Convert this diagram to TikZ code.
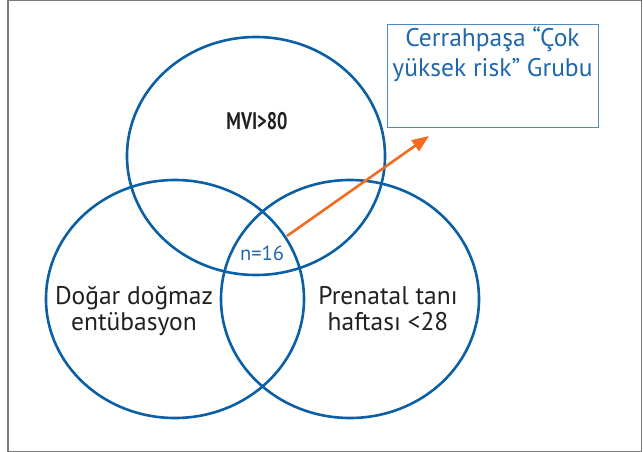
\documentclass[tikz,border=0pt]{standalone}
\usepackage{fontspec}
\usepackage{graphicx}
\setmainfont{PT Sans}
\usetikzlibrary{shapes.geometric,arrows.meta}
\definecolor{vblue}{HTML}{0A5FA6}
\definecolor{bxblue}{HTML}{4A8AC8}
\definecolor{txblue}{HTML}{1F68AE}
\definecolor{arrorange}{HTML}{F26B21}
\definecolor{txdark}{HTML}{231F20}
\definecolor{framegray}{HTML}{7A7A7A}
\tikzset{
  venn/.style={draw=vblue, line width=2.6pt, ellipse, inner sep=0pt,
    minimum width=258pt, minimum height=238pt},
  lbl/.style={text=txdark, align=center, anchor=base, inner sep=0pt,
    font=\fontsize{25.5}{26}\selectfont},
  boxtxt/.style={text=txblue, align=center, anchor=base, inner sep=0pt,
    font=\fontsize{25.5}{30}\selectfont},
}
\begin{document}
\begin{tikzpicture}[x=1pt,y=-1pt]
\useasboundingbox (0,0) rectangle (643,452);
\draw[framegray, line width=1.5pt] (8,0.75) rectangle (641.25,451.25);
% Venn ellipses
\node[venn] (top) at (256,156) {};
\node[venn] (left) at (175,299) {};
\node[venn] (right) at (350,299) {};
% labels
\node[lbl, font=\fontsize{24}{26}\selectfont\bfseries] (mvi) at (257,129) {\scalebox{0.76}[1]{MVI>80}};
\node[lbl] (dogar) at (134,330) {Doğar doğmaz\\entübasyon};
\node[lbl] (pren) at (388,330) {Prenatal tanı\\haftası <28};
\node[text=txblue, anchor=base, inner sep=0pt, font=\fontsize{20.5}{22}\selectfont] (n) at (262,260) {n=16};
% result box
\node[draw=bxblue, line width=1pt, minimum width=211pt, minimum height=102pt, inner sep=0pt] (box) at (492.5,76) {};
\node[boxtxt] (boxt) at (492.5,77) {Cerrahpaşa “Çok\\yüksek risk” Grubu};
% arrow
\coordinate (a1) at (287,236);
\coordinate (a2) at (429,136);
\draw[arrorange, line width=2.6pt, -{Triangle[length=17pt,width=13pt]}] (a1) -- (a2);
\end{tikzpicture}
\end{document}
